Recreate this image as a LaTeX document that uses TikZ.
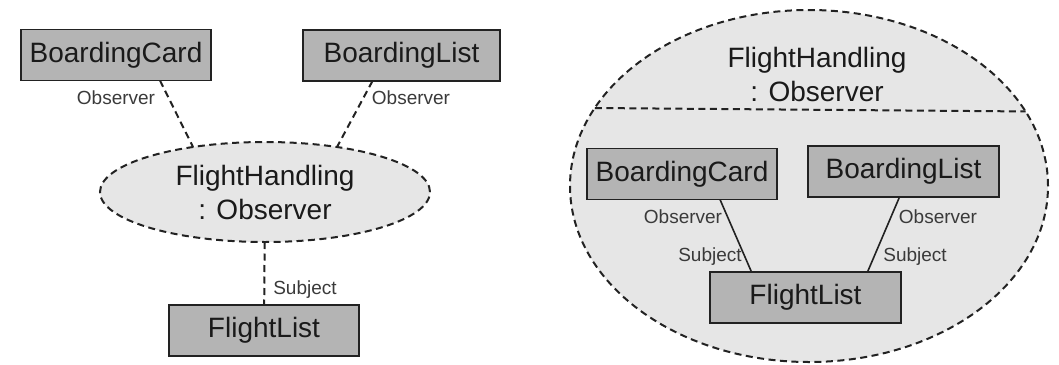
\documentclass[tikz,border=0pt]{standalone}
\usepackage{fontspec}
\setmainfont{Liberation Sans}
\usetikzlibrary{positioning,shapes.geometric}
\definecolor{boxfill}{HTML}{B4B4B4}
\definecolor{ellfill}{HTML}{E6E6E6}
\definecolor{edge}{HTML}{222222}
\definecolor{ink}{HTML}{1A1A1A}
\definecolor{inksoft}{HTML}{3A3A3A}

\begin{document}
\begin{tikzpicture}[
  x=1pt,y=-1pt,
  cls/.style={rectangle,draw=edge,fill=boxfill,line width=1.8pt,
    minimum width=190pt,minimum height=51pt,inner sep=0pt,outer sep=0pt,
    text=ink,font=\fontsize{28}{33}\selectfont},
  role/.style={ellipse,draw=edge,fill=ellfill,line width=2pt,
    dash pattern=on 7pt off 4.5pt,inner sep=0pt,outer sep=0pt,
    text=ink,font=\fontsize{28}{34}\selectfont,align=center},
  link/.style={draw=edge,line width=2pt,dash pattern=on 7pt off 4.5pt},
  wire/.style={draw=edge,line width=1.6pt},
  lbl/.style={inner sep=0pt,text=inksoft,font=\fontsize{19}{22}\selectfont}
]
  \useasboundingbox (0,0) rectangle (1059,364);

  % left: collaboration as a role
  \node[cls] (bcL) at (116,55) {BoardingCard};
  \node[cls,minimum width=197pt] (blL) at (401.5,55.5) {BoardingList};
  \node[role,minimum width=330pt,minimum height=100pt] (fhL) at (265,192)
    {FlightHandling\\: Observer};
  \node[cls] (flL) at (264,330.5) {FlightList};

  \draw[link] ([xshift=44pt]bcL.south) -- (fhL.148);
  \draw[link] ([xshift=-29pt]blL.south) -- (fhL.32);
  \draw[link] (fhL) -- (flL);

  \node[lbl] (obL1) at (116,98) {Observer};
  \node[lbl] (obL2) at (411,98) {Observer};
  \node[lbl] (sbL) at (305,290) {Subject};

  % right: collaboration expanded
  \node[role,minimum width=478pt,minimum height=352pt] (fhR) at (809,186) {};
  \node[align=center,inner sep=0pt,text=ink,
    font=\fontsize{28}{34}\selectfont] (ttlR) at (817,74)
    {FlightHandling\\: Observer};
  \draw[link] (fhR.160.3) -- (fhR.19.7);

  \node[cls] (bcR) at (682,174) {BoardingCard};
  \node[cls,minimum width=191pt] (blR) at (903.5,171.5) {BoardingList};
  \node[cls,minimum width=191pt] (flR) at (805.5,297.5) {FlightList};

  \draw[wire] ([xshift=38pt]bcR.south) -- ([xshift=-54pt]flR.north);
  \draw[wire] ([xshift=-4pt]blR.south) -- ([xshift=62pt]flR.north);

  \node[lbl] (obR1) at (683,217) {Observer};
  \node[lbl] (sbR1) at (710,257) {Subject};
  \node[lbl] (obR2) at (938,217) {Observer};
  \node[lbl] (sbR2) at (915,257) {Subject};
\end{tikzpicture}
\end{document}
